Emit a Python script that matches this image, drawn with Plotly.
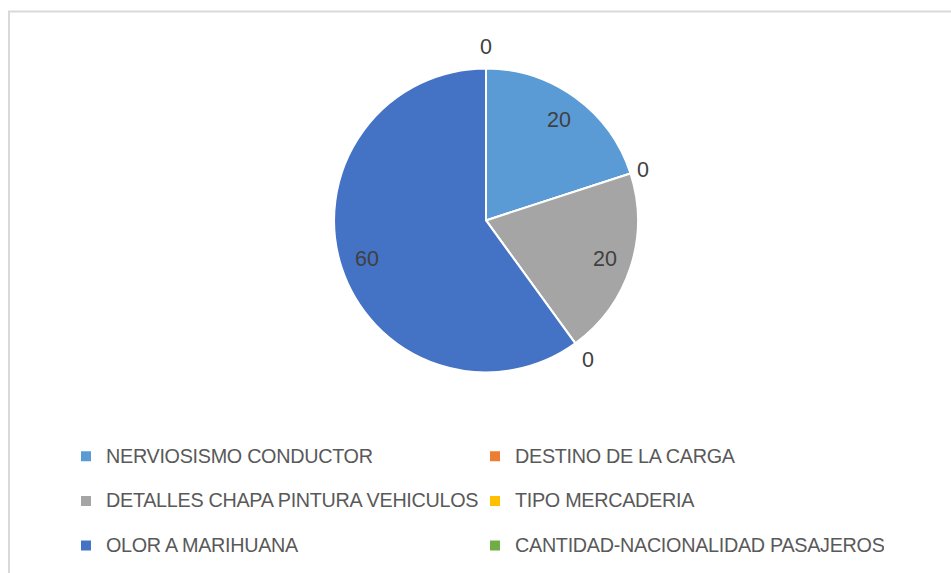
import math

import plotly.graph_objects as go

labels = ['NERVIOSISMO CONDUCTOR', 'DESTINO DE LA CARGA', 'DETALLES CHAPA PINTURA VEHICULOS',
          'TIPO MERCADERIA', 'OLOR A MARIHUANA', 'CANTIDAD-NACIONALIDAD PASAJEROS']
values = [20, 0, 20, 0, 60, 0]
colors = ['#5B9BD5', '#ED7D31', '#A5A5A5', '#FFC000', '#4472C4', '#70AD47']

W, H = 951, 573
FONT = 'Liberation Sans, Arial, sans-serif'

# pie box in pixels (left, right, top, bottom)
px_l, px_r, px_t, px_b = 333, 639, 69, 375
cx, cy = (px_l + px_r) / 2, (px_t + px_b) / 2
R = (px_r - px_l) / 2

# legend text is smaller than the legend font so rows get Excel-like spacing
legend_labels = ['<span style="font-size:19.8px;letter-spacing:-0.3px;baseline-shift:5.7px">%s</span>' % l
                 for l in labels]

pie = go.Pie(labels=legend_labels, values=values, sort=False, direction='clockwise', rotation=0,
             marker=dict(colors=colors, line=dict(color='white', width=2)),
             textinfo='none', hoverinfo='value',
             domain=dict(x=[px_l / W, px_r / W], y=[1 - px_b / H, 1 - px_t / H]))

# data labels: inside for non-zero slices, just outside the rim for zero slices
total = sum(values)
annotations = []
cum = 0
for v in values:
    mid = (cum + v / 2) / total * 2 * math.pi
    cum += v
    if v > 0:
        dist = R * 0.817
    else:
        # keep the text box clear of the rim
        dist = R + 6 * abs(math.sin(mid)) + 22 * abs(math.cos(mid))
    x = cx + dist * math.sin(mid)
    y = cy - dist * math.cos(mid)
    annotations.append(dict(x=x / W, y=1 - y / H, xref='paper', yref='paper', text=str(v), showarrow=False,
                            xanchor='center', yanchor='middle', font=dict(size=21.5, color='#404040')))

layout = go.Layout(width=W, height=H, margin=dict(l=0, r=0, t=0, b=0),
                   paper_bgcolor='white', plot_bgcolor='white',
                   font=dict(family=FONT, color='#595959'),
                   showlegend=True,
                   legend=dict(orientation='h', x=66 / W, y=1 - 432 / H, xanchor='left', yanchor='top',
                               entrywidth=364, entrywidthmode='pixels', traceorder='normal',
                               font=dict(size=32, color='#595959', family=FONT)),
                   annotations=annotations,
                   shapes=[dict(type='rect', xref='paper', yref='paper', x0=9 / W, y0=1 - 11.5 / H,
                                x1=1.05, y1=-0.05, line=dict(color='#D9D9D9', width=2), layer='below')])

fig = go.Figure(data=[pie], layout=layout)
# drop the default body margin so the figure sits at the window's corner
fig.write_html("out.html", config={'displayModeBar': False},
               post_script="document.body.style.margin='0';")
